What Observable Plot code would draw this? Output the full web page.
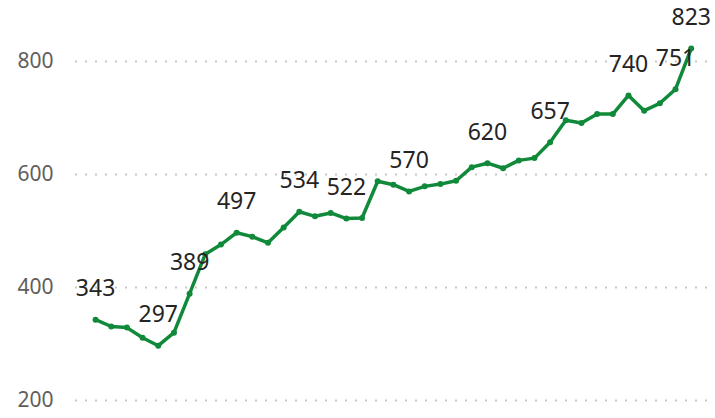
<!DOCTYPE html>
<html><head><meta charset="utf-8">
<script src="https://cdn.jsdelivr.net/npm/d3@7"></script>
<script src="https://cdn.jsdelivr.net/npm/@observablehq/plot@0.6"></script>
<style>body{margin:0;background:#fff}</style>
</head><body><div id="chart"></div>
<script>
const values = [343, 331, 329, 311, 297, 320, 389, 459, 476, 497, 490, 479, 506, 534, 526, 532, 522, 523, 588, 582, 570, 579, 583, 589, 613, 620, 611, 625, 629, 657, 696, 691, 707, 707, 740, 713, 726, 751, 823];
const labeledIndex = [0, 4, 6, 9, 13, 16, 20, 25, 29, 34, 37, 38];
const yTicks = [200, 400, 600, 800];

const data = values.map((v, i) => ({i, v}));
const labeled = data.filter(d => labeledIndex.includes(d.i));

const chart = Plot.plot({
  width: 715, height: 418,
  marginLeft: 75, marginRight: 0, marginTop: 61, marginBottom: 18,
  x: {domain: [-1.28, 39.55], axis: null},
  y: {domain: [200, 800], ticks: yTicks},
  style: {fontFamily: "'Noto Sans', sans-serif", background: "#fff", overflow: "visible"},
  marks: [
    Plot.ruleY(yTicks, {stroke: "#c8c8c8", strokeWidth: 2, strokeDasharray: "2,8"}),
    Plot.axisY(yTicks, {tickSize: 0, tickPadding: 22, fontSize: 21, fill: "#605e5c", label: null}),
    Plot.line(data, {x: "i", y: "v", stroke: "#108a3a", strokeWidth: 3.5}),
    Plot.dot(data, {x: "i", y: "v", r: 3, fill: "#108a3a"}),
    Plot.text(labeled, {x: "i", y: "v", text: d => String(d.v), dy: -31, fontSize: 23, fill: "#252423"})
  ]
});
document.getElementById("chart").append(chart);
</script>
</body></html>
